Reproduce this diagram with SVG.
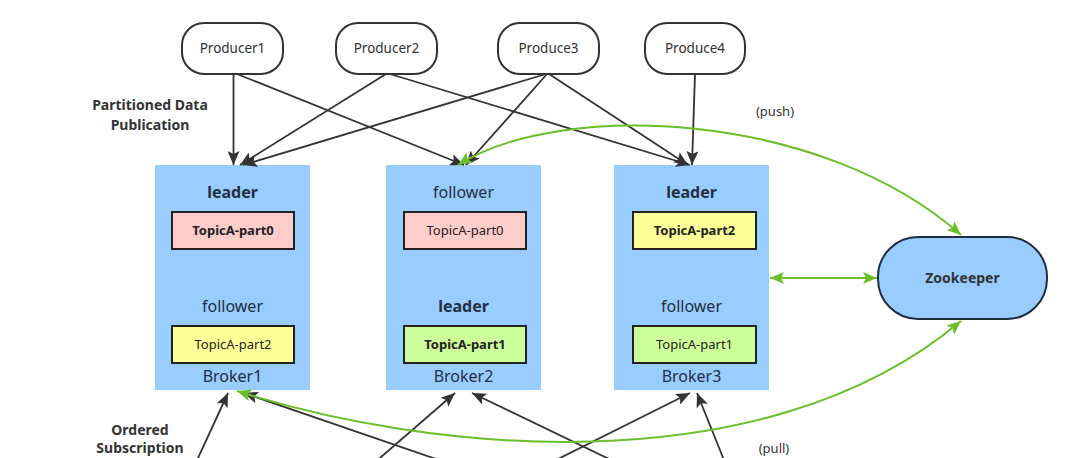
<svg xmlns="http://www.w3.org/2000/svg" width="1078" height="458" viewBox="0 0 1078 458">
<defs>
<style>
.prod{fill:#ffffff;stroke:#333333;stroke-width:2}
.broker{fill:#99ccff}
.part{stroke:#222222;stroke-width:2}
.p0{fill:#ffcccc}.p1{fill:#ccff99}.p2{fill:#ffff99}
.zk{fill:#99ccff;stroke:#1f2d3d;stroke-width:2}
text{font-family:"Noto Sans","Open Sans","DejaVu Sans",sans-serif;text-anchor:middle}
.pt{font-size:13.5px;fill:#333333}
.role{font-size:16px;fill:#223040}
.b{font-weight:bold}
.pl{font-size:13px;fill:#222222}
.lbl{font-size:14px;font-weight:bold;fill:#333333}
.note{font-size:13px;fill:#333333}
.dark{fill:none;stroke:#333333;stroke-width:1.8;marker-end:url(#ah)}
.green{fill:none;stroke:#6abf2a;stroke-width:2;marker-end:url(#gh);marker-start:url(#gh)}
</style>
<marker id="ah" markerUnits="userSpaceOnUse" markerWidth="15" markerHeight="12" refX="14" refY="6" orient="auto"><path d="M0,0 L14,6 L0,12 L3,6 z" fill="#333333"/></marker>
<marker id="gh" markerUnits="userSpaceOnUse" markerWidth="15" markerHeight="12" refX="14" refY="6" orient="auto-start-reverse"><path d="M0,0 L14,6 L0,12 L3,6 z" fill="#6abf2a"/></marker>
</defs>
<rect width="1078" height="458" fill="#ffffff"/>

<g id="producer1"><rect class="prod" x="182" y="23" width="101" height="51" rx="22"/><text class="pt" x="232.5" y="53">Producer1</text></g>
<g id="producer2"><rect class="prod" x="336" y="23" width="101" height="51" rx="22"/><text class="pt" x="386.5" y="53">Producer2</text></g>
<g id="produce3"><rect class="prod" x="498" y="23" width="101" height="51" rx="22"/><text class="pt" x="548.5" y="53">Produce3</text></g>
<g id="produce4"><rect class="prod" x="645" y="23" width="100" height="51" rx="22"/><text class="pt" x="695" y="53">Produce4</text></g>

<g id="broker1">
<rect class="broker" x="155" y="165" width="155" height="225"/>
<text class="role b" x="232.5" y="198">leader</text>
<rect class="part p0" x="172" y="212" width="122" height="37"/>
<text class="pl b" x="233" y="235">TopicA-part0</text>
<text class="role" x="232.5" y="312">follower</text>
<rect class="part p2" x="172" y="326" width="122" height="37"/>
<text class="pl" x="233" y="349">TopicA-part2</text>
<text class="role" x="232.5" y="382">Broker1</text>
</g>
<g id="broker2">
<rect class="broker" x="386" y="165" width="155" height="225"/>
<text class="role" x="463.5" y="198">follower</text>
<rect class="part p0" x="404" y="212" width="122" height="37"/>
<text class="pl" x="465" y="235">TopicA-part0</text>
<text class="role b" x="463.5" y="312">leader</text>
<rect class="part p1" x="404" y="326" width="122" height="37"/>
<text class="pl b" x="465" y="349">TopicA-part1</text>
<text class="role" x="463.5" y="382">Broker2</text>
</g>
<g id="broker3">
<rect class="broker" x="614" y="165" width="155" height="225"/>
<text class="role b" x="691.5" y="198">leader</text>
<rect class="part p2" x="633" y="212" width="123" height="37"/>
<text class="pl b" x="694.5" y="235">TopicA-part2</text>
<text class="role" x="691.5" y="312">follower</text>
<rect class="part p1" x="633" y="326" width="123" height="37"/>
<text class="pl" x="694.5" y="349">TopicA-part1</text>
<text class="role" x="691.5" y="382">Broker3</text>
</g>
<g id="zookeeper">
<rect class="zk" x="878" y="237" width="169" height="82" rx="40"/>
<text class="lbl" x="962.5" y="283" fill="#1f2d3d">Zookeeper</text>
</g>

<g id="labels">
<text class="lbl" x="150" y="110">Partitioned Data</text>
<text class="lbl" x="150" y="130">Publication</text>
<text class="note" x="775" y="116">(push)</text>
<text class="lbl" x="140" y="435">Ordered</text>
<text class="lbl" x="140" y="453">Subscription</text>
<text class="note" x="774" y="453">(pull)</text>
</g>

<g id="connectors">
<path class="dark" d="M233.5,74 L233.5,165"/>
<path class="dark" d="M237,74 L464,165"/>
<path class="dark" d="M386,74 L240,165"/>
<path class="dark" d="M390,74 L690,165"/>
<path class="dark" d="M546,74 L243,165"/>
<path class="dark" d="M547,74 L466,165"/>
<path class="dark" d="M549,74 L688,165"/>
<path class="dark" d="M695,74 L692,165"/>

<path class="dark" d="M192.5,470 L228,393"/>
<path class="dark" d="M468,470 L244,393"/>
<path class="dark" d="M366,470 L455,393"/>
<path class="dark" d="M632,470 L472,393"/>
<path class="dark" d="M536,470 L690,393"/>
<path class="dark" d="M728,470 L697,393"/>

<path class="green" d="M458,165 C560,100 820,110 961,235"/>
<path class="green" d="M770,278 L877,278"/>
<path class="green" d="M237,391 C420,450 760,490 961,321"/>
</g>
</svg>
